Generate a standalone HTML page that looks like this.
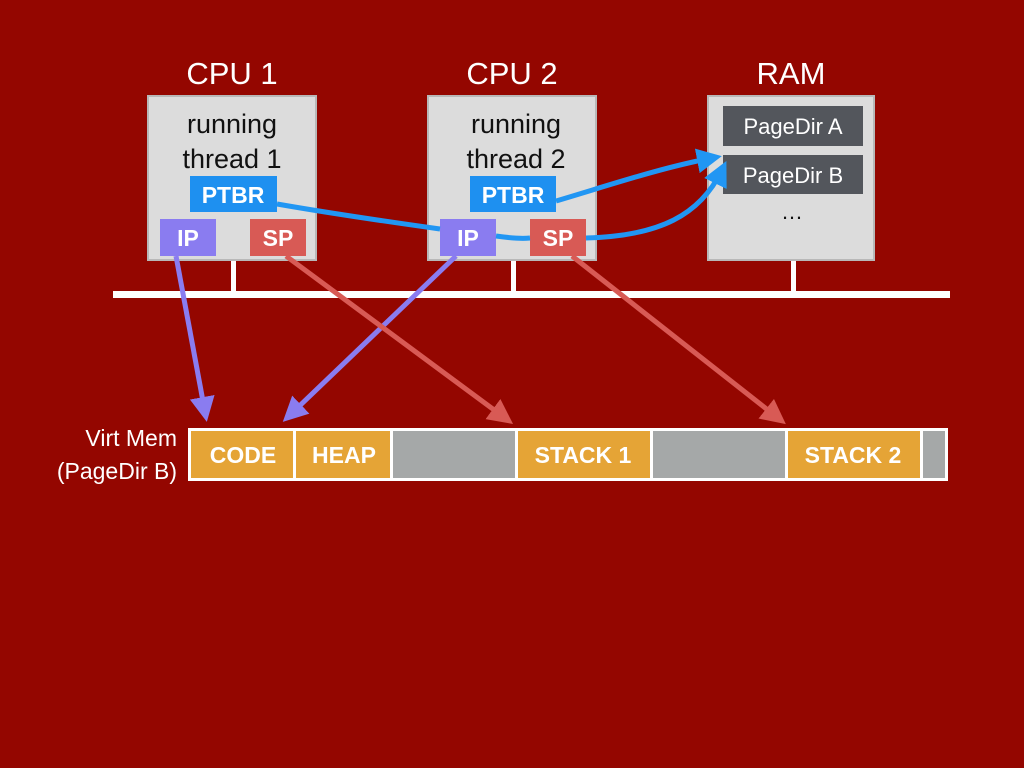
<!DOCTYPE html>
<html><head><meta charset="utf-8"><style>
html,body{margin:0;padding:0;background:#940600;}
svg{display:block}
text{font-family:"Liberation Sans",Arial,sans-serif}
</style></head><body>
<svg width="1024" height="768" viewBox="0 0 1024 768" xmlns="http://www.w3.org/2000/svg">
<defs>
<marker id="ab" markerWidth="5" markerHeight="5" refX="3" refY="2.5" orient="auto" markerUnits="strokeWidth"><path d="M0,0 L5,2.5 L0,5 z" fill="#2196f3"/></marker>
<marker id="ap" markerWidth="5" markerHeight="5" refX="3" refY="2.5" orient="auto" markerUnits="strokeWidth"><path d="M0,0 L5,2.5 L0,5 z" fill="#8a7cf0"/></marker>
<marker id="ar" markerWidth="5" markerHeight="5" refX="3" refY="2.5" orient="auto" markerUnits="strokeWidth"><path d="M0,0 L5,2.5 L0,5 z" fill="#d85a55"/></marker>
</defs>
<rect width="1024" height="768" fill="#940600"/>
<g fill="#fff" font-size="31" text-anchor="middle">
<text x="232" y="84">CPU 1</text><text x="512" y="84">CPU 2</text><text x="791" y="84">RAM</text>
</g>
<!-- bus -->
<rect x="113" y="291" width="837" height="7" fill="#fff"/>
<rect x="231" y="260" width="5" height="34" fill="#fff"/>
<rect x="511" y="260" width="5" height="34" fill="#fff"/>
<rect x="791" y="260" width="5" height="34" fill="#fff"/>
<!-- boxes -->
<rect x="148" y="96" width="168" height="164" fill="#dcdcdc" stroke="#b8b8b8" stroke-width="2"/>
<rect x="428" y="96" width="168" height="164" fill="#dcdcdc" stroke="#b8b8b8" stroke-width="2"/>
<rect x="708" y="96" width="166" height="164" fill="#dcdcdc" stroke="#b8b8b8" stroke-width="2"/>
<g font-size="27" fill="#111" text-anchor="middle">
<text x="232" y="133">running</text><text x="232" y="168">thread 1</text>
<text x="516" y="133">running</text><text x="516" y="168">thread 2</text>
</g>
<rect x="190" y="176" width="87" height="36" fill="#1e90f0"/>
<rect x="470" y="176" width="86" height="36" fill="#1e90f0"/>
<rect x="160" y="219" width="56" height="37" fill="#8a7cf0"/>
<rect x="250" y="219" width="56" height="37" fill="#d85a55"/>
<rect x="440" y="219" width="56" height="37" fill="#8a7cf0"/>
<rect x="530" y="219" width="56" height="37" fill="#d85a55"/>
<g fill="#fff" font-weight="bold" font-size="23" text-anchor="middle">
<text x="233" y="203">PTBR</text><text x="513" y="203">PTBR</text>
<text x="188" y="246">IP</text><text x="278" y="246">SP</text>
<text x="468" y="246">IP</text><text x="558" y="246">SP</text>
</g>
<rect x="723" y="106" width="140" height="40" fill="#53565c"/>
<rect x="723" y="155" width="140" height="39" fill="#53565c"/>
<g fill="#fff" font-size="22" text-anchor="middle">
<text x="793" y="134">PageDir A</text><text x="793" y="183">PageDir B</text>
</g>
<text x="792" y="219" font-size="22" fill="#111" text-anchor="middle">…</text>
<!-- blue arrows -->
<g fill="none" stroke="#2196f3" stroke-width="5">
<path d="M277,204 C340,215 390,222 440,229"/>
<path d="M496,236 C510,238 520,239 530,238"/>
<path d="M556,201 C610,185 660,168 712,158" marker-end="url(#ab)"/>
<path d="M586,238 C660,236 700,215 722,170" marker-end="url(#ab)"/>
</g>
<!-- purple/red arrows -->
<g fill="none" stroke-width="5">
<path d="M176,256 L205,412" stroke="#8a7cf0" marker-end="url(#ap)"/>
<path d="M456,256 L290,415" stroke="#8a7cf0" marker-end="url(#ap)"/>
<path d="M286,256 L505,418" stroke="#d85a55" marker-end="url(#ar)"/>
<path d="M572,256 L778,418" stroke="#d85a55" marker-end="url(#ar)"/>
</g>
<!-- virt mem -->
<g fill="#fff" font-size="23" text-anchor="end">
<text x="177" y="446">Virt Mem</text><text x="177" y="479">(PageDir B)</text>
</g>
<rect x="188" y="428" width="760" height="53" fill="#fff"/>
<rect x="191" y="431" width="102" height="47" fill="#e5a436"/>
<rect x="296" y="431" width="94" height="47" fill="#e5a436"/>
<rect x="393" y="431" width="122" height="47" fill="#a5a8a8"/>
<rect x="518" y="431" width="132" height="47" fill="#e5a436"/>
<rect x="653" y="431" width="132" height="47" fill="#a5a8a8"/>
<rect x="788" y="431" width="132" height="47" fill="#e5a436"/>
<rect x="923" y="431" width="22" height="47" fill="#a5a8a8"/>
<g fill="#fff" font-weight="bold" font-size="23" text-anchor="middle">
<text x="243" y="463">CODE</text><text x="344" y="463">HEAP</text>
<text x="583" y="463">STACK 1</text><text x="853" y="463">STACK 2</text>
</g>
</svg>
</body></html>
